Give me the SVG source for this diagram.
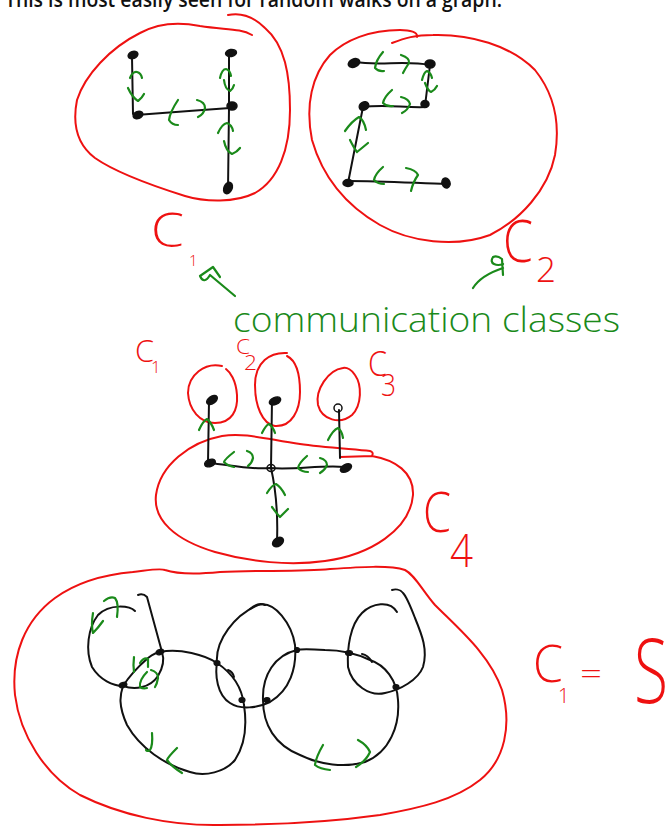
<svg xmlns="http://www.w3.org/2000/svg" width="670" height="829" viewBox="0 0 670 829">
<style>
.red{fill:none;stroke:#ee1111;stroke-width:2;stroke-linecap:round;stroke-linejoin:round}
.edge{fill:none;stroke:#111;stroke-width:2;stroke-linecap:round;stroke-linejoin:round}
.grn{fill:none;stroke:#1a8a1a;stroke-width:2.2;stroke-linecap:round;stroke-linejoin:round}
.node{fill:#111;stroke:#111;stroke-width:1.5}
.sm{fill:#111;stroke:#111;stroke-width:1.2}
.lr{font-family:"Open Sans","Liberation Sans",sans-serif;font-weight:300;fill:#ee1111}
.lg{font-family:"Open Sans","Liberation Sans",sans-serif;font-weight:300;fill:#1a8a1a}
.top{font-family:"Open Sans","Liberation Sans",sans-serif;font-weight:600;fill:#111}
</style>
<rect width="670" height="829" fill="#fff"/>
<text class="top" x="5" y="7" font-size="22" textLength="497" lengthAdjust="spacingAndGlyphs">This is most easily seen for random walks on a graph.</text>

<!-- class outlines -->
<g id="outline-top-C1"><path class="red" d="M252,35 C240,28 225,30 200,26 C180,22 160,22 140,33 C110,48 85,75 77,100 C72,125 78,145 95,158 C115,172 150,185 185,196 C205,202 235,203 255,193 C278,180 290,150 290,110 C290,75 285,45 265,28 C255,18 242,12 228,15"/></g>
<g id="outline-top-C2"><path class="red" d="M392,43 C405,38 415,35 433,35 C470,34 510,45 535,70 C555,95 560,125 555,155 C548,190 520,220 490,235 C455,248 410,242 380,225 C345,205 322,175 312,140 C305,105 312,75 330,55 C345,40 370,30 400,30 C410,30 418,32 417,37"/></g>
<g id="outline-mid-C1"><path class="red" d="M222,366 C205,362 188,375 188,393 C189,410 200,423 215,423 C232,423 238,410 237,395 C236,380 230,372 226,369"/></g>
<g id="outline-mid-C2"><path class="red" d="M287,353 C270,352 255,362 255,385 C255,405 262,424 275,426 C292,427 300,410 300,392 C300,372 295,360 287,356"/></g>
<g id="outline-mid-C3"><path class="red" d="M343,368 C328,370 315,390 318,405 C322,420 340,425 352,415 C362,405 362,385 355,375 C352,370 347,367 343,368"/></g>
<g id="outline-mid-C4"><path class="red" d="M340,457 L372,456 Q374,452 370,451 C350,449 320,447 300,444 C270,440 245,432 222,436 C190,442 160,465 156,495 C153,520 175,540 215,552 C250,562 290,566 325,561 C370,555 410,530 413,495 C414,472 395,460 372,456"/></g>
<g id="outline-bottom-C1"><path class="red" d="M133,572 C150,570 160,568 165,570 C180,575 200,574 220,572 C260,570 300,572 330,569 C360,567 390,565 405,570 C415,575 422,590 435,605 C460,630 490,655 502,690 C512,725 505,760 480,780 C455,800 420,808 380,815 C330,822 270,825 220,825 C170,826 120,815 80,795 C45,775 20,735 15,695 C11,655 25,620 55,598 C80,580 110,574 133,572"/></g>

<!-- connectors -->
<g id="connectors">
  <!-- top C1 -->
  <path class="edge" d="M132,57 L133,114"/>
  <path class="edge" d="M136,115 C160,113 200,110 230,108"/>
  <path class="edge" d="M229,53 L229,108 L228,190"/>
  <!-- top C2 -->
  <path class="edge" d="M355,62 C380,66 405,60 430,65"/>
  <path class="edge" d="M430,65 L425,106"/>
  <path class="edge" d="M363,107 C385,104 405,108 426,107"/>
  <path class="edge" d="M363,107 L348,183"/>
  <path class="edge" d="M348,181 C380,181 415,183 447,184"/>
  <!-- middle -->
  <path class="edge" d="M209,401 L208,463"/>
  <path class="edge" d="M272,400 L271,468"/>
  <path class="edge" d="M339,410 L340,458"/>
  <path class="edge" d="M210,463 C230,465 250,470 270,468 C295,470 320,465 345,467"/>
  <path class="edge" d="M271,468 C276,490 278,515 277,542"/>
  <!-- bottom -->
  <path class="edge" d="M135,611 C130,606 110,603 98,615 C88,628 85,650 92,667 C100,680 113,686 123,686"/>
  <path class="edge" d="M162,652 L147,597 Q143,593 138,595"/>
  <path class="edge" d="M123,686 C135,690 150,688 158,676 C164,666 164,658 162,652"/>
  <path class="edge" d="M123,686 C130,675 140,665 148,658 C153,654 157,652 162,652"/>
  <path class="edge" d="M160,652 C180,648 205,655 217,663 C232,673 242,688 244,705 C247,725 245,745 235,760 C225,772 205,777 190,772 C165,765 140,748 127,725 C118,705 120,695 123,686"/>
  <path class="edge" d="M217,663 C215,640 235,615 258,605 C275,600 292,625 295,645 C297,668 290,690 270,702 C258,708 240,710 230,703 C217,695 215,675 217,663"/>
  <path class="edge" d="M250,609 Q258,602 265,605"/>
  <path class="edge" d="M297,650 C275,655 262,675 263,700 C263,725 275,745 300,755 C320,765 345,768 365,762 C390,752 400,725 398,700 C397,680 385,665 370,660 C355,653 340,650 325,650 C310,649 300,649 297,650"/>
  <path class="edge" d="M397,612 C390,600 372,603 362,613 C350,625 347,648 348,667 C352,685 370,697 385,693 C400,690 418,680 423,667 C428,650 422,635 415,618 C410,605 405,595 403,593 C400,589 395,589 392,590"/>
  <path class="edge" d="M362,654 Q368,655 372,662"/>
  <path class="edge" d="M228,670 Q233,672 234,677"/>

  <!-- green arrow marks -->
  <g>
    <path class="grn" d="M130,78 Q133,71 137,72 Q141,73 142,78"/>
    <path class="grn" d="M128,88 Q132,97 138,101 Q142,98 144,94"/>
    <path class="grn" d="M178,100 Q170,112 169,120 Q172,125 178,125"/>
    <path class="grn" d="M197,100 Q205,102 205,108 Q204,114 198,117"/>
    <path class="grn" d="M220,78 Q222,69 226,69 Q230,70 231,76"/>
    <path class="grn" d="M224,80 Q225,89 230,91 Q233,89 234,85"/>
    <path class="grn" d="M218,133 Q222,124 227,123 Q232,125 233,131"/>
    <path class="grn" d="M224,141 Q226,151 232,154 Q237,152 240,148"/>

    <path class="grn" d="M383,52 Q376,60 375,68 Q379,72 384,71"/>
    <path class="grn" d="M401,55 Q410,58 409,63 Q405,69 403,73"/>
    <path class="grn" d="M422,80 Q424,72 427,71 Q431,73 432,78"/>
    <path class="grn" d="M425,83 Q428,91 431,92 Q435,90 437,86"/>
    <path class="grn" d="M392,90 Q384,97 383,103 Q387,107 393,106"/>
    <path class="grn" d="M401,97 Q409,99 410,104 Q408,110 402,113"/>
    <path class="grn" d="M345,131 Q352,121 359,117 Q364,120 366,130"/>
    <path class="grn" d="M350,140 Q354,148 357,152 Q362,148 368,143"/>
    <path class="grn" d="M383,167 Q375,174 374,180 Q378,184 384,184"/>
    <path class="grn" d="M406,168 Q416,170 418,175 Q413,182 411,191"/>

    <path class="grn" d="M199,430 Q203,421 207,419 Q211,422 214,430"/>
    <path class="grn" d="M262,433 Q266,425 269,424 Q273,427 275,433"/>
    <path class="grn" d="M328,440 Q333,430 338,428 Q342,431 343,438"/>
    <path class="grn" d="M234,452 Q225,459 224,462 Q228,466 234,467"/>
    <path class="grn" d="M247,451 Q253,453 253,458 Q252,463 248,466"/>
    <path class="grn" d="M307,456 Q299,463 298,468 Q302,472 308,472"/>
    <path class="grn" d="M320,458 Q327,460 327,465 Q325,470 320,473"/>
    <path class="grn" d="M267,493 Q272,485 276,484 Q281,487 285,495"/>
    <path class="grn" d="M272,507 Q277,514 280,517 Q284,513 288,509"/>

    <path class="grn" d="M93,613 Q91,625 93,633 Q98,628 103,621"/>
    <path class="grn" d="M104,601 Q110,596 115,598 Q119,603 117,617"/>
    <path class="grn" d="M134,657 Q133,665 134,672 M140,663 Q144,657 148,659 Q148,663 148,667"/>
    <path class="grn" d="M147,672 Q139,680 140,687 Q143,689 147,688 M151,670 Q158,672 158,678 Q157,684 155,687"/>
    <path class="grn" d="M152,733 Q153,745 150,750 Q147,752 146,750"/>
    <path class="grn" d="M177,748 Q168,757 167,760 Q172,767 182,773"/>
    <path class="grn" d="M323,745 Q316,757 315,765 Q320,769 330,770"/>
    <path class="grn" d="M358,740 Q367,745 370,752 Q366,761 356,767"/>

    <!-- pointer arrows from label -->
    <path class="grn" d="M235,296 L210,275 Q204,285 200,276 L213,267 L220,277"/>
    <path class="grn" d="M473,288 C478,280 488,273 503,268 M503,275 L502,259 Q497,255 493,257 Q490,262 494,264 Q498,266 503,264"/>
  </g>
</g>

<!-- nodes -->
<g id="n-top1-a"><ellipse class="node" cx="133" cy="55" rx="5" ry="3.5" transform="rotate(-20 133 55)"/></g>
<g id="n-top1-b"><ellipse class="node" cx="138" cy="115" rx="5" ry="3.5" transform="rotate(-20 138 115)"/></g>
<g id="n-top1-c"><ellipse class="node" cx="231" cy="53" rx="5.5" ry="3.5" transform="rotate(-10 231 53)"/></g>
<g id="n-top1-d"><ellipse class="node" cx="232" cy="106" rx="5" ry="4"/></g>
<g id="n-top1-e"><ellipse class="node" cx="228" cy="188" rx="4" ry="6" transform="rotate(25 228 188)"/></g>

<g id="n-top2-a"><ellipse class="node" cx="354" cy="63" rx="6" ry="4" transform="rotate(-25 354 63)"/></g>
<g id="n-top2-b"><ellipse class="node" cx="430" cy="64" rx="5" ry="4"/></g>
<g id="n-top2-c"><ellipse class="node" cx="364" cy="106" rx="5" ry="4" transform="rotate(-30 364 106)"/></g>
<g id="n-top2-d"><ellipse class="node" cx="425" cy="104" rx="4" ry="3.5"/></g>
<g id="n-top2-e"><ellipse class="node" cx="348" cy="183" rx="5" ry="3.5"/></g>
<g id="n-top2-f"><ellipse class="node" cx="446" cy="183" rx="4" ry="5" transform="rotate(-20 446 183)"/></g>

<g id="n-mid-l1"><ellipse class="node" cx="212" cy="400" rx="6" ry="3.5" transform="rotate(-35 212 400)"/></g>
<g id="n-mid-l2"><ellipse class="node" cx="275" cy="401" rx="6" ry="3.5" transform="rotate(-25 275 401)"/></g>
<g id="n-mid-l3"><ellipse class="node" cx="338" cy="408" rx="4" ry="4" style="fill:none"/></g>
<g id="n-mid-m1"><ellipse class="node" cx="210" cy="463" rx="5.5" ry="3.5" transform="rotate(-20 210 463)"/></g>
<g id="n-mid-m2"><ellipse class="node" cx="271" cy="468" rx="4" ry="3.5" style="fill:none"/></g>
<g id="n-mid-m3"><ellipse class="node" cx="346" cy="468" rx="6" ry="3.5" transform="rotate(-30 346 468)"/></g>
<g id="n-mid-m4"><ellipse class="node" cx="278" cy="542" rx="6" ry="4" transform="rotate(-35 278 542)"/></g>

<g id="n-bot-1"><ellipse class="sm" cx="123" cy="685" rx="4" ry="2.5" transform="rotate(-20 123 685)"/></g>
<g id="n-bot-2"><ellipse class="sm" cx="160" cy="652" rx="4" ry="2.5" transform="rotate(-20 160 652)"/></g>
<g id="n-bot-3"><ellipse class="sm" cx="217" cy="663" rx="3" ry="2.5"/></g>
<g id="n-bot-4"><ellipse class="sm" cx="242" cy="700" rx="3" ry="2.5"/></g>
<g id="n-bot-5"><ellipse class="sm" cx="267" cy="700" rx="3" ry="2.5"/></g>
<g id="n-bot-6"><ellipse class="sm" cx="297" cy="650" rx="2.5" ry="2.5"/></g>
<g id="n-bot-7"><ellipse class="sm" cx="349" cy="653" rx="3.5" ry="2.5"/></g>
<g id="n-bot-8"><ellipse class="sm" cx="396" cy="687" rx="3" ry="2.5"/></g>

<!-- labels -->
<g id="labels">
  <text class="lr" x="151" y="247" font-size="48" textLength="33" lengthAdjust="spacingAndGlyphs">C</text>
  <text class="lr" x="189" y="266" font-size="15">1</text>
  <text class="lr" x="503" y="262" font-size="58" textLength="30" lengthAdjust="spacingAndGlyphs">C</text>
  <text class="lr" x="536" y="282" font-size="34" textLength="20" lengthAdjust="spacingAndGlyphs">2</text>
  <text class="lg" x="233" y="332" font-size="34" textLength="387" lengthAdjust="spacingAndGlyphs">communication classes</text>

  <text class="lr" x="135" y="362" font-size="32" textLength="19" lengthAdjust="spacingAndGlyphs">C</text>
  <text class="lr" x="151" y="373" font-size="17">1</text>
  <text class="lr" x="236" y="354" font-size="20" textLength="14" lengthAdjust="spacingAndGlyphs">C</text>
  <text class="lr" x="244" y="370" font-size="20" textLength="13" lengthAdjust="spacingAndGlyphs">2</text>
  <text class="lr" x="368" y="376" font-size="35" textLength="19" lengthAdjust="spacingAndGlyphs">C</text>
  <text class="lr" x="381" y="396" font-size="32" textLength="15" lengthAdjust="spacingAndGlyphs">3</text>
  <text class="lr" x="423" y="532" font-size="55" textLength="28" lengthAdjust="spacingAndGlyphs">C</text>
  <text class="lr" x="450" y="567" font-size="46" textLength="23" lengthAdjust="spacingAndGlyphs">4</text>

  <text class="lr" x="533" y="682" font-size="52" textLength="30" lengthAdjust="spacingAndGlyphs">C</text>
  <text class="lr" x="558" y="703" font-size="20">1</text>
  <text class="lr" x="580" y="684" font-size="32" textLength="22" lengthAdjust="spacingAndGlyphs">=</text>
  <text class="lr" x="634" y="703" font-size="90" textLength="34" lengthAdjust="spacingAndGlyphs">S</text>
</g>
</svg>
